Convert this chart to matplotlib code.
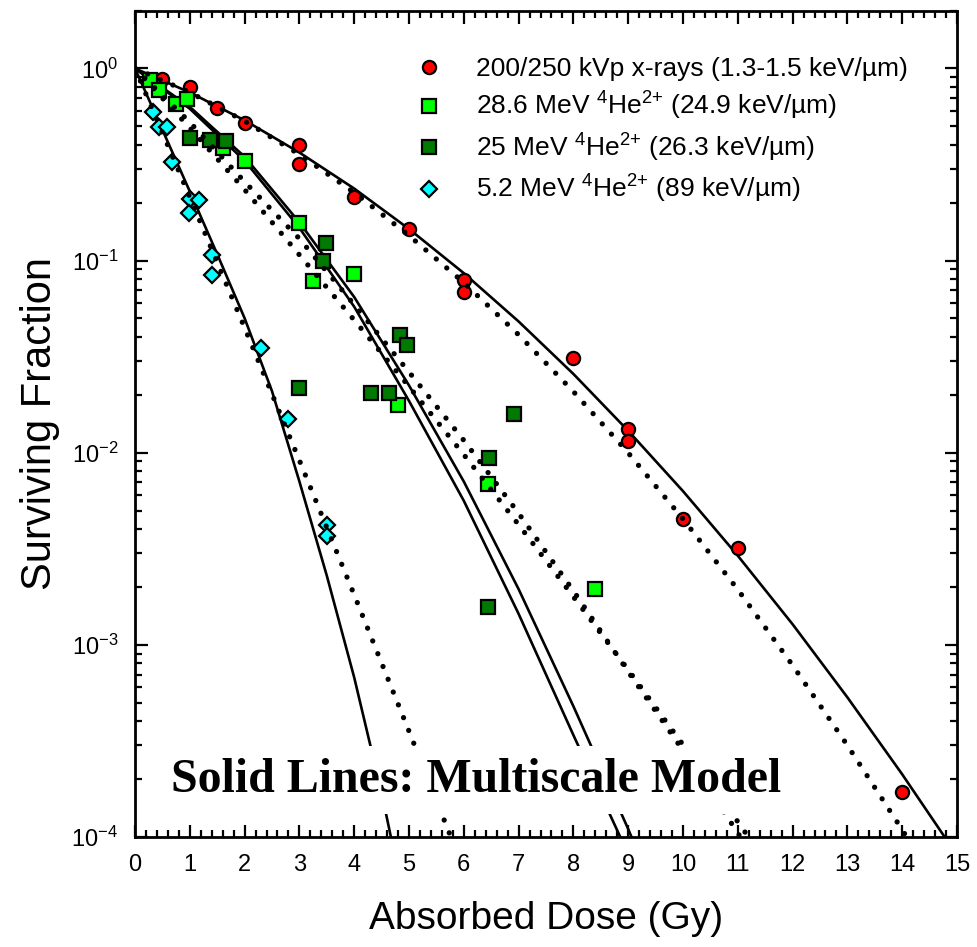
import matplotlib.pyplot as plt
from matplotlib.ticker import MultipleLocator, LogLocator, NullFormatter

plt.rcParams['font.family'] = ['Liberation Sans', 'DejaVu Sans']
plt.rcParams['mathtext.fontset'] = 'custom'
plt.rcParams['mathtext.rm'] = 'Liberation Sans'
plt.rcParams['mathtext.it'] = 'Liberation Sans:italic'
plt.rcParams['mathtext.bf'] = 'Liberation Sans:bold'

# measured survival data
dose_xray = [0.5, 1.0, 1.5, 2.0, 3.0, 3.0, 4.0, 5.0, 6.0, 6.0, 8.0, 9.0, 9.0, 10.0, 11.0, 14.0]
sf_xray = [0.88, 0.80, 0.62, 0.52, 0.40, 0.32, 0.215, 0.146, 0.079, 0.069, 0.031, 0.0133,
           0.0115, 0.0045, 0.0032, 0.000172]

dose_he286 = [0.28, 0.44, 0.75, 0.95, 1.6, 2.0, 3.0, 3.25, 4.0, 4.8, 6.45, 8.4]
sf_he286 = [0.87, 0.77, 0.655, 0.695, 0.385, 0.33, 0.157, 0.078, 0.085, 0.0178, 0.0069, 0.00196]

dose_he25 = [1.0, 1.36, 1.66, 3.0, 3.43, 3.49, 4.3, 4.63, 4.83, 4.97, 6.44, 6.46, 6.92]
sf_he25 = [0.437, 0.423, 0.418, 0.0218, 0.099, 0.124, 0.0204, 0.0204, 0.0412, 0.0362,
           0.00157, 0.0094, 0.0159]

dose_he52 = [0.33, 0.43, 0.58, 0.67, 1.0, 1.16, 0.99, 1.40, 1.40, 2.30, 2.79, 3.51, 3.51]
sf_he52 = [0.59, 0.497, 0.497, 0.324, 0.21, 0.207, 0.177, 0.107, 0.0845, 0.035, 0.015,
           0.0042, 0.0037]

# model curves
dose_red = list(range(16))
sf_red_solid = [1, 0.750, 0.537, 0.365, 0.237, 0.146, 0.0860, 0.0482, 0.0257, 0.0130,
                0.00631, 0.00291, 0.00128, 0.000533, 0.000212, 0.0000804]
sf_red_dotted = [1, 0.750, 0.532, 0.357, 0.226, 0.135, 0.0768, 0.0411, 0.0208, 0.00998,
                 0.00452, 0.00194, 0.000783, 0.000300, 0.000109, 0.0000373]

dose_green_solid = list(range(11))
sf_green_solid_a = [1, 0.617, 0.331, 0.148, 0.0575, 0.0186, 0.00562, 0.00145, 0.000339,
                    0.0000813, 0.0000178]
sf_green_solid_b = [1, 0.631, 0.347, 0.158, 0.0646, 0.0224, 0.00708, 0.00195, 0.000479,
                    0.000110, 0.0000224]

dose_green_dotted = list(range(13))
sf_green_dotted_a = [1, 0.490, 0.234, 0.107, 0.0490, 0.0221, 0.00977, 0.00422, 0.00178,
                     0.000741, 0.000302, 0.000120, 0.0000468]
sf_green_dotted_b = [1, 0.525, 0.257, 0.130, 0.0589, 0.0263, 0.0116, 0.00484, 0.00191,
                     0.000724, 0.000282, 0.000105, 0.0000372]

dose_cyan_solid = [0, 0.5, 1, 1.5, 2, 2.5, 3, 3.5, 4, 4.5, 5]
sf_cyan_solid = [1, 0.479, 0.229, 0.108, 0.0501, 0.0209, 0.00708, 0.00229, 0.000676,
                 0.000170, 0.0000355]
dose_cyan_dotted = [0, 1, 2, 3, 4, 5, 6]
sf_cyan_dotted = [1, 0.214, 0.0447, 0.00912, 0.00182, 0.000355, 0.0000676]

fig = plt.figure(figsize=(9.77, 9.47), dpi=100)
ax = fig.add_axes([0.1382, 0.1162, 0.8413, 0.8726])

dot = dict(color='black', lw=3.8, ls=(0, (0.01, 2.6)), dash_capstyle='round', zorder=4)
solid = dict(color='black', lw=1.9, zorder=2)

ax.plot(dose_red, sf_red_solid, **solid)
ax.plot(dose_green_solid, sf_green_solid_a, **solid)
ax.plot(dose_green_solid, sf_green_solid_b, **solid)
ax.plot(dose_cyan_solid, sf_cyan_solid, **solid)

ax.plot(dose_red, sf_red_dotted, **dot)
ax.plot(dose_green_dotted, sf_green_dotted_a, **dot)
ax.plot(dose_green_dotted, sf_green_dotted_b, **dot)
ax.plot(dose_cyan_dotted, sf_cyan_dotted, **dot)

mk = dict(ls='none', mec='black', mew=1.6, zorder=3)
ax.plot(dose_xray, sf_xray, 'o', ms=9.5, mfc='#ff0000',
        label='200/250 kVp x-rays (1.3-1.5 keV/\u00b5m)', **mk)
ax.plot(dose_he286, sf_he286, 's', ms=9.5, mfc='#00ff00',
        label='28.6 MeV $^{4}$He$^{2{+}}$ (24.9 keV/\u00b5m)', **mk)
ax.plot(dose_he25, sf_he25, 's', ms=9.5, mfc='#007a00',
        label='25 MeV $^{4}$He$^{2{+}}$ (26.3 keV/\u00b5m)', **mk)
ax.plot(dose_he52, sf_he52, 'D', ms=8.5, mfc='#00ffff',
        label='5.2 MeV $^{4}$He$^{2{+}}$ (89 keV/\u00b5m)', **mk)

ax.text(0.4153, 0.0545, 'Solid Lines: Multiscale Model', transform=ax.transAxes,
        ha='center', va='baseline', fontsize=34.5, fontweight='bold',
        family='Liberation Serif', zorder=6,
        bbox=dict(facecolor='white', edgecolor='none', pad=8.5))

ax.set_yscale('log')
ax.set_xlim(0, 15)
ax.set_ylim(1e-4, 2)
ax.xaxis.set_major_locator(MultipleLocator(1))
ax.xaxis.set_minor_locator(MultipleLocator(0.2))
ax.yaxis.set_major_locator(LogLocator(base=10, numticks=10))
ax.yaxis.set_minor_locator(LogLocator(base=10, subs=range(2, 10), numticks=10))
ax.yaxis.set_minor_formatter(NullFormatter())

ax.tick_params(which='both', direction='in', top=True, right=True, width=1.6, labelsize=17)
ax.tick_params(which='major', length=9, pad=12)
ax.tick_params(which='minor', length=5)
for s in ax.spines.values():
    s.set_linewidth(2)

ax.set_xlabel('Absorbed Dose (Gy)', fontsize=28, labelpad=18)
ax.set_ylabel('Surviving Fraction', fontsize=30, labelpad=8)

ax.legend(loc='upper left', bbox_to_anchor=(0.342, 0.944), frameon=False, fontsize=19,
          handlelength=1.0, handletextpad=1.25, borderpad=0, borderaxespad=0,
          labelspacing=0.35, numpoints=1)

fig.savefig('out.png', dpi=100)
